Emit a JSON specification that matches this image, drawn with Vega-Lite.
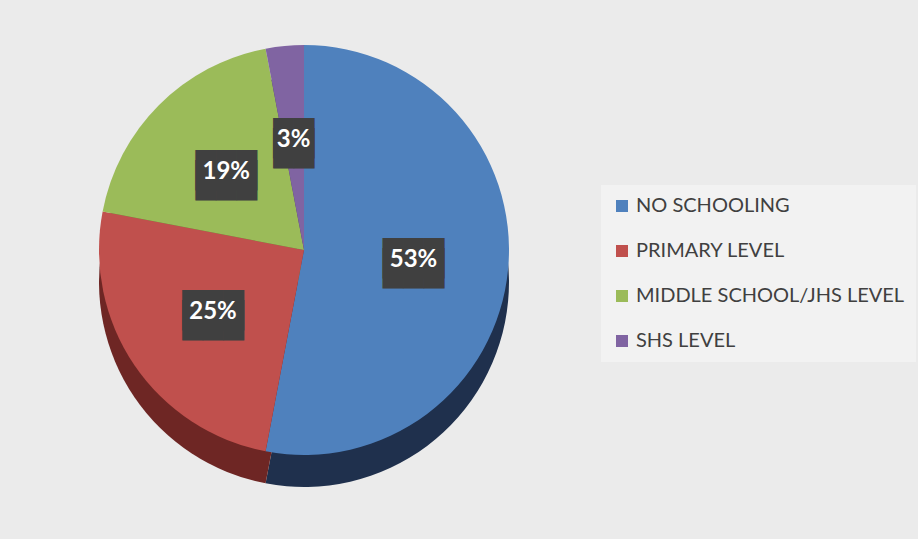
{
  "$schema": "https://vega.github.io/schema/vega-lite/v6.json",
  "width": 608,
  "height": 500,
  "autosize": {"type": "none"},
  "padding": {"left": 0, "top": 0, "right": 310, "bottom": 39},
  "background": "#ebebeb",
  "config": {"view": {"stroke": null}},
  "data": {
    "values": [
      {"category": "NO SCHOOLING", "value": 53, "label": "53%", "order": 1},
      {"category": "PRIMARY LEVEL", "value": 25, "label": "25%", "order": 2},
      {"category": "MIDDLE SCHOOL/JHS LEVEL", "value": 19, "label": "19%", "order": 3},
      {"category": "SHS LEVEL", "value": 3, "label": "3%", "order": 4}
    ]
  },
  "resolve": {"scale": {"color": "independent"}, "legend": {"color": "independent"}},
  "layer": [
    {
      "mark": {"type": "arc", "radius": 205, "yOffset": 32},
      "encoding": {
        "theta": {"field": "value", "type": "quantitative", "stack": true},
        "order": {"field": "order", "type": "quantitative"},
        "color": {
          "field": "category",
          "type": "nominal",
          "sort": null,
          "scale": {
            "domain": ["NO SCHOOLING", "PRIMARY LEVEL", "MIDDLE SCHOOL/JHS LEVEL", "SHS LEVEL"],
            "range": ["#1f304d", "#6e2624", "#5d7031", "#4d3c61"]
          },
          "legend": null
        }
      }
    },
    {
      "mark": {"type": "arc", "radius": 205},
      "encoding": {
        "theta": {"field": "value", "type": "quantitative", "stack": true},
        "order": {"field": "order", "type": "quantitative"},
        "color": {
          "field": "category",
          "type": "nominal",
          "sort": null,
          "scale": {
            "domain": ["NO SCHOOLING", "PRIMARY LEVEL", "MIDDLE SCHOOL/JHS LEVEL", "SHS LEVEL"],
            "range": ["#4f81bd", "#c0504d", "#9bbb59", "#8064a2"]
          },
          "legend": {
            "title": null,
            "orient": "none",
            "legendX": 601,
            "legendY": 185,
            "fillColor": "#f2f2f2",
            "padding": 11,
            "symbolType": "square",
            "symbolSize": 144,
            "symbolStrokeWidth": 0,
            "labelFont": "Lato",
            "labelFontSize": 20,
            "labelColor": "#404040",
            "labelOffset": 4,
            "rowPadding": 25,
            "labelLimit": 400
          }
        }
      }
    },
    {
      "transform": [{"calculate": "[pad('', length(datum.label), '█'), pad('', length(datum.label), '█')]", "as": "box"}],
      "mark": {"type": "text", "radius": 110, "font": "DejaVu Sans Mono", "fontSize": 34, "lineHeight": 10, "color": "#404040", "align": "center", "baseline": "middle"},
      "encoding": {
        "theta": {"field": "value", "type": "quantitative", "stack": true},
        "order": {"field": "order", "type": "quantitative"},
        "text": {"field": "box"}
      }
    },
    {
      "mark": {"type": "text", "radius": 110, "font": "Lato", "fontWeight": "bold", "fontSize": 24, "color": "#ffffff", "align": "center", "baseline": "middle"},
      "encoding": {
        "theta": {"field": "value", "type": "quantitative", "stack": true},
        "order": {"field": "order", "type": "quantitative"},
        "text": {"field": "label", "type": "nominal"}
      }
    }
  ]
}
